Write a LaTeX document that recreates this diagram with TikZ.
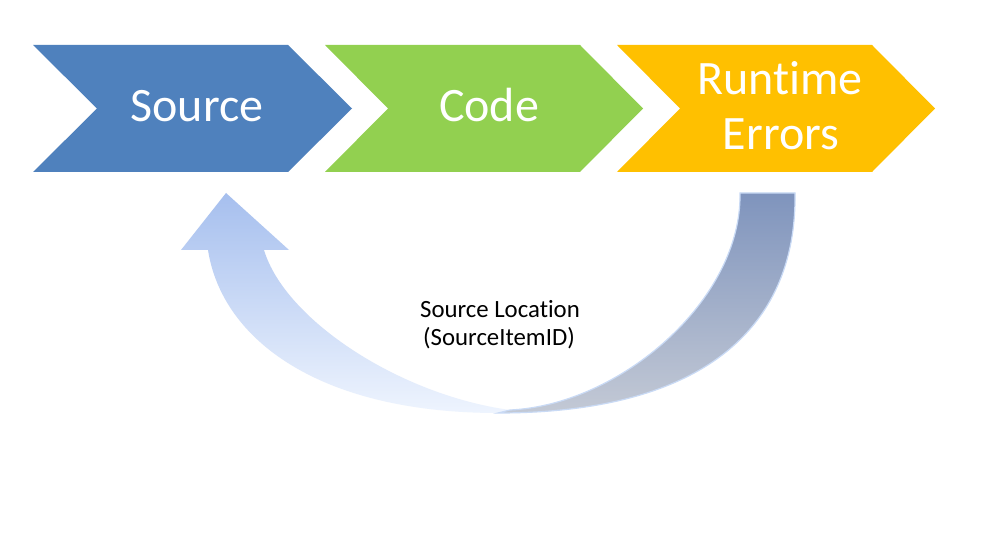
\documentclass[tikz,border=0pt]{standalone}
\usepackage{fontspec}
\setmainfont{Carlito}[Ligatures={NoCommon,NoRare}]
\begin{document}
\begin{tikzpicture}[x=1pt,y=-1pt,
  chev/.style={draw=none},
  bigtxt/.style={text=white,font=\fontsize{48}{58}\selectfont,inner sep=0pt,anchor=base},
  lbl/.style={text=black,font=\fontsize{24.8}{29}\selectfont,inner sep=0pt,anchor=base}]
\definecolor{cblue}{HTML}{4F81BD}
\definecolor{cgreen}{HTML}{92D050}
\definecolor{cyellow}{HTML}{FFC000}
\definecolor{ltop}{HTML}{A6BFEE}
\definecolor{lbot}{HTML}{EEF4FE}
\definecolor{rtop}{HTML}{7F94BD}
\definecolor{rbot}{HTML}{C3C9D5}
\definecolor{redge}{HTML}{C9DAF5}
\useasboundingbox[fill=white] (0,0) rectangle (986,540);
% chevrons
\fill[cblue,chev] (33,45) -- (288,45) -- (352,108.5) -- (288,172) -- (33,172) -- (97,108.5) -- cycle;
\fill[cgreen,chev] (325,45) -- (580,45) -- (643,108.5) -- (580,172) -- (325,172) -- (388,108.5) -- cycle;
\fill[cyellow,chev] (617,45) -- (872,45) -- (935,108.5) -- (872,172) -- (617,172) -- (680,108.5) -- cycle;
\node[bigtxt] (src) at (197,122) {Source};
\node[bigtxt] (code) at (489,122) {Code};
\node[bigtxt] (rt) at (780,95) {Runtime};
\node[bigtxt] (err) at (781,150) {Errors};
% curved arrow: left (front) band with arrowhead
\shade[top color=ltop,bottom color=lbot]
  (208,250) .. controls (222,340) and (320,413) .. (498,413)
  -- (510,410) .. controls (400,395) and (285,320) .. (264,250)
  -- (289,250) -- (226,193) -- (181,250) -- cycle;
% right (back) band
\shade[top color=rtop,bottom color=rbot,draw=redge,line width=1.2pt]
  (795,193) .. controls (797,330) and (700,413) .. (498,413)
  -- (510,410) .. controls (620,405) and (742,300) .. (740,193) -- cycle;
\node[lbl] (loc) at (500,317) {Source Location};
\node[lbl] (sid) at (499,345) {(SourceItemID)};
\end{tikzpicture}
\end{document}
